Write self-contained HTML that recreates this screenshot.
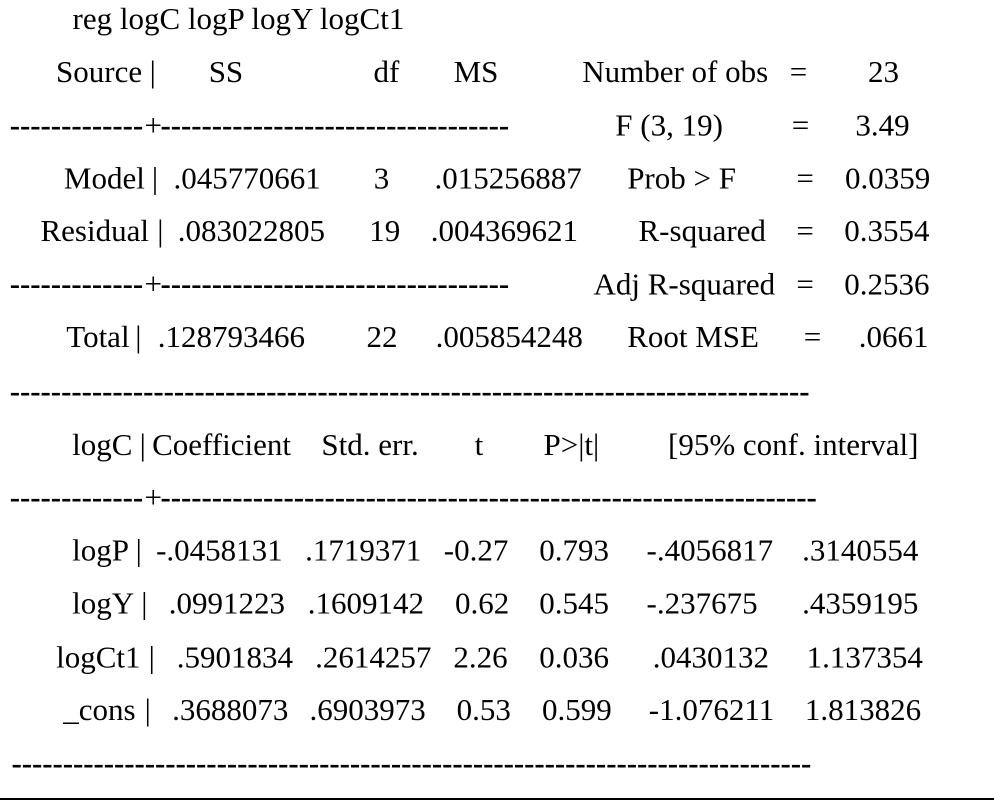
<!DOCTYPE html>
<html>
<head>
<meta charset="utf-8">
<style>
  html, body { margin: 0; padding: 0; background: #fff; }
  svg { display: block; }
  text { font-family: "Liberation Serif", "Times New Roman", serif; font-size: 31px; fill: #000; }
  .d { letter-spacing: -0.07px; font-weight: bold; }
</style>
</head>
<body>
<svg width="994" height="802" viewBox="0 0 994 802" xmlns="http://www.w3.org/2000/svg">
  <rect x="0" y="0" width="994" height="802" fill="#fff"/>

  <!-- Row 1 -->
  <text x="72.5" y="29">reg logC logP logY logCt1</text>

  <!-- Row 2 -->
  <text x="56" y="82">Source</text>
  <text x="149.6" y="82">|</text>
  <text x="208.7" y="82">SS</text>
  <text x="373.5" y="82">df</text>
  <text x="453.6" y="82">MS</text>
  <text x="582.2" y="82">Number of obs</text>
  <text x="789.7" y="82">=</text>
  <text x="868" y="82">23</text>

  <!-- Row 3 -->
  <text class="d" x="9.8" y="135.5">-------------</text>
  <text x="144.5" y="135.5">+</text>
  <text class="d" x="160.5" y="135.5">----------------------------------</text>
  <text x="615.3" y="135.7">F (3, 19)</text>
  <text x="791.7" y="135.7">=</text>
  <text x="855.4" y="135.7">3.49</text>

  <!-- Row 4 -->
  <text x="63.9" y="188.3">Model</text>
  <text x="151.9" y="188.3">|</text>
  <text x="173.5" y="188.3">.045770661</text>
  <text x="373.7" y="188.3">3</text>
  <text x="434.5" y="188.3">.015256887</text>
  <text x="627.2" y="188.3">Prob &gt; F</text>
  <text x="796.4" y="188.3">=</text>
  <text x="845" y="188.3">0.0359</text>

  <!-- Row 5 -->
  <text x="40.5" y="241">Residual</text>
  <text x="157.2" y="241">|</text>
  <text x="177.8" y="241">.083022805</text>
  <text x="369.3" y="241">19</text>
  <text x="430.8" y="241">.004369621</text>
  <text x="638.5" y="241">R-squared</text>
  <text x="796.4" y="241">=</text>
  <text x="844.3" y="241">0.3554</text>

  <!-- Row 6 -->
  <text class="d" x="9.8" y="294">-------------</text>
  <text x="144.5" y="294">+</text>
  <text class="d" x="160.5" y="294">----------------------------------</text>
  <text x="593.5" y="294.3">Adj R-squared</text>
  <text x="796.4" y="294.3">=</text>
  <text x="844.3" y="294.3">0.2536</text>

  <!-- Row 7 -->
  <text x="66.3" y="347">Total</text>
  <text x="135.2" y="347">|</text>
  <text x="157.7" y="347">.128793466</text>
  <text x="366.5" y="347">22</text>
  <text x="435.6" y="347">.005854248</text>
  <text x="627.2" y="347">Root MSE</text>
  <text x="803.7" y="347">=</text>
  <text x="858.8" y="347">.0661</text>

  <!-- Row 8 -->
  <text class="d" x="9.8" y="401.3">------------------------------------------------------------------------------</text>

  <!-- Row 9 -->
  <text x="72.1" y="455">logC</text>
  <text x="139.6" y="455">|</text>
  <text x="152.1" y="455">Coefficient</text>
  <text x="321.4" y="455">Std. err.</text>
  <text x="474.6" y="455">t</text>
  <text x="543.5" y="455">P&gt;|t|</text>
  <text x="668" y="455">[95% conf. interval]</text>

  <!-- Row 10 -->
  <text class="d" x="9.8" y="507.5">-------------</text>
  <text x="144.5" y="507.5">+</text>
  <text class="d" x="160.5" y="507.5">----------------------------------------------------------------</text>

  <!-- Row 11 -->
  <text x="72.1" y="560.5">logP</text>
  <text x="135.6" y="560.5">|</text>
  <text x="156.1" y="560.5">-.0458131</text>
  <text x="305.1" y="560.5">.1719371</text>
  <text x="443.8" y="560.5">-0.27</text>
  <text x="539.3" y="560.5">0.793</text>
  <text x="646.5" y="560.5">-.4056817</text>
  <text x="802.1" y="560.5">.3140554</text>

  <!-- Row 12 -->
  <text x="72.1" y="613.3">logY</text>
  <text x="141.2" y="613.3">|</text>
  <text x="168.8" y="613.3">.0991223</text>
  <text x="307.8" y="613.3">.1609142</text>
  <text x="455" y="613.3">0.62</text>
  <text x="539.3" y="613.3">0.545</text>
  <text x="646.5" y="613.3">-.237675</text>
  <text x="802.1" y="613.3">.4359195</text>

  <!-- Row 13 -->
  <text x="56.1" y="667.3">logCt1</text>
  <text x="148.6" y="667.3">|</text>
  <text x="176.8" y="667.3">.5901834</text>
  <text x="315.1" y="667.3">.2614257</text>
  <text x="453.4" y="667.3">2.26</text>
  <text x="539.3" y="667.3">0.036</text>
  <text x="652.8" y="667.3">.0430132</text>
  <text x="806.6" y="667.3">1.137354</text>

  <!-- Row 14 -->
  <text x="63.3" y="720">_cons</text>
  <text x="144.6" y="720">|</text>
  <text x="172.1" y="720">.3688073</text>
  <text x="309.5" y="720">.6903973</text>
  <text x="456.6" y="720">0.53</text>
  <text x="542" y="720">0.599</text>
  <text x="648.8" y="720">-1.076211</text>
  <text x="804.9" y="720">1.813826</text>

  <!-- Row 15 -->
  <text class="d" x="11.5" y="773.5">------------------------------------------------------------------------------</text>

  <!-- bottom rule -->
  <rect x="0" y="798" width="994" height="2" fill="#000"/>
</svg>
</body>
</html>
